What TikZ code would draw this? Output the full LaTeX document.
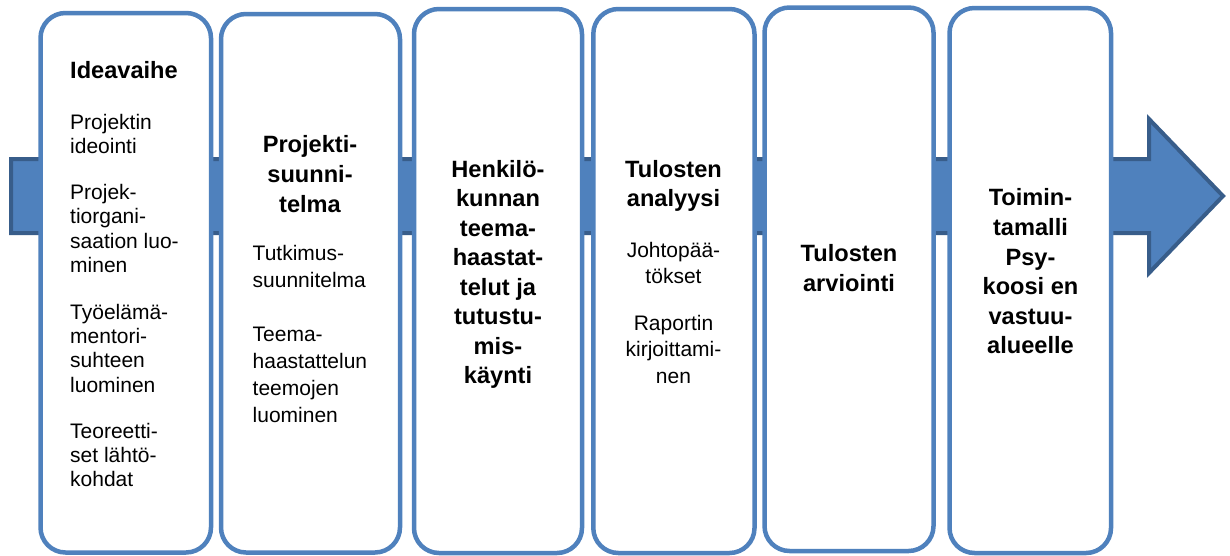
\documentclass[tikz,border=0pt]{standalone}
\usepackage{fontspec}
\setmainfont{Liberation Sans}
\definecolor{boxblue}{HTML}{4F81BD}
\definecolor{darkblue}{HTML}{385D8A}
\begin{document}
\begin{tikzpicture}[x=1pt,y=-1pt,
  stage/.style={draw=boxblue, line width=4.5pt, fill=white, rounded corners=25pt, inner sep=0pt},
  ttl/.style={font={\fontsize{23.6}{#1}\selectfont\bfseries}, align=center, inner sep=0pt, anchor=north},
  itm/.style={font={\fontsize{21}{#1}\selectfont}, align=left, inner sep=0pt, anchor=north west},
  itmc/.style={font={\fontsize{21}{#1}\selectfont}, align=center, inner sep=0pt, anchor=north},
  bigarrow/.style={fill=boxblue, draw=darkblue, line width=4pt, line join=miter}
]
\useasboundingbox (0,0) rectangle (1230,555);
% big arrow behind
\draw[bigarrow] (11,159) -- (1149,159) -- (1149,119) -- (1223,196) -- (1149,273) -- (1149,233) -- (11,233) -- cycle;
% stage boxes
\node[stage, minimum width=170.5pt, minimum height=539.5pt] (b1) at (125.75,282.75) {};
\node[stage, minimum width=179pt, minimum height=538.5pt] (b2) at (310.5,283.25) {};
\node[stage, minimum width=168pt, minimum height=544pt] (b3) at (498,281) {};
\node[stage, minimum width=161.2pt, minimum height=544pt] (b4) at (673.9,281) {};
\node[stage, minimum width=169pt, minimum height=543.5pt] (b5) at (849,279.25) {};
\node[stage, minimum width=161.5pt, minimum height=545pt] (b6) at (1030.25,280.5) {};
% box 1
\node[ttl=29.5, anchor=north west] (t1) at (70,57.4) {\strut Ideavaihe};
\node[itm=24.2] (p11) at (70,112.6) {\strut Projektin\\ideointi};
\node[itm=24.2] (p12) at (70,182.5) {\strut Projek-\\tiorgani-\\saation luo-\\minen};
\node[itm=24.2] (p13) at (70,302.4) {\strut Työelämä-\\mentori-\\suhteen\\luominen};
\node[itm=24.2] (p14) at (70,421.4) {\strut Teoreetti-\\set lähtö-\\kohdat};
% box 2
\node[ttl=30] (t2) at (310,131) {\strut Projekti-\\suunni-\\telma};
\node[itm=27] (p21) at (252.5,241.1) {\strut Tutkimus-\\suunnitelma};
\node[itm=27] (p22) at (252.5,322.1) {\strut Teema-\\haastattelun\\teemojen\\luominen};
% box 3
\node[ttl=29.5] (t3) at (498,156.2) {\strut Henkilö-\\kunnan\\teema-\\haastat-\\telut ja\\tutustu-\\mis-\\käynti};
% box 4
\node[ttl=29.3] (t4) at (673.5,156.5) {\strut Tulosten\\analyysi};
\node[itmc=25.6] (p41) at (673.5,239.4) {\strut Johtopää-\\tökset};
\node[itmc=26.6] (p42) at (673.5,311.4) {\strut Raportin\\kirjoittami-\\nen};
% box 5
\node[ttl=30] (t5) at (849,240.7) {\strut Tulosten\\arviointi};
% box 6
\node[ttl=29.6] (t6) at (1030.5,185) {\strut Toimin-\\tamalli\\Psy-\\koosi en\\vastuu-\\alueelle};
\end{tikzpicture}
\end{document}
